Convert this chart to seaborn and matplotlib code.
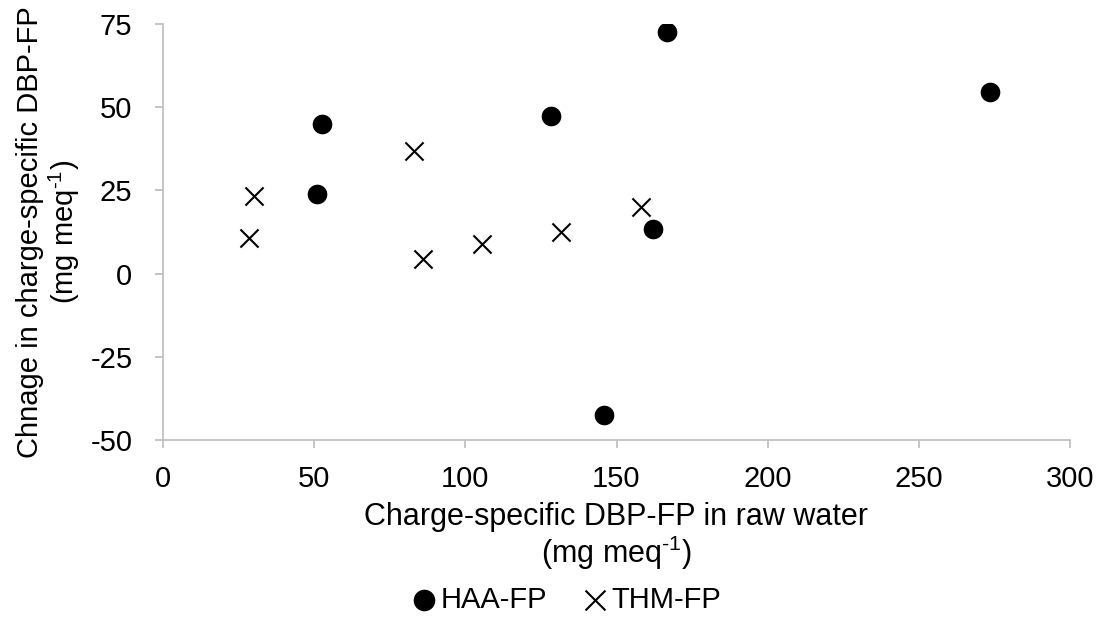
import matplotlib
matplotlib.use("Agg")
import matplotlib.pyplot as plt
import seaborn as sns
import pandas as pd

haa_x = [52.7, 50.8, 128.5, 166.6, 273.5, 162.2, 145.9]
haa_y = [44.9, 24.0, 47.4, 72.6, 54.5, 13.5, -42.6]
thm_x = [30.0, 28.5, 83.0, 86.0, 105.5, 131.6, 158.0]
thm_y = [23.3, 10.7, 36.7, 4.4, 8.9, 12.6, 19.9]

x_ticks = [0, 50, 100, 150, 200, 250, 300]
y_ticks = [-50, -25, 0, 25, 50, 75]
x_label = "Charge-specific DBP-FP in raw water\n(mg meq$^{\\text{-1}}$)"
y_label = "Chnage in charge-specific DBP-FP\n(mg meq$^{\\text{-1}}$)"

sns.set_theme(style="white")
plt.rcParams['font.family'] = ['Liberation Sans', 'DejaVu Sans']
plt.rcParams['mathtext.fontset'] = 'custom'
plt.rcParams['mathtext.rm'] = 'Liberation Sans'
plt.rcParams['text.color'] = 'black'
plt.rcParams['axes.labelcolor'] = 'black'

FS = 21

haa = pd.DataFrame({"x": haa_x, "y": haa_y})
thm = pd.DataFrame({"x": thm_x, "y": thm_y})

fig = plt.figure(figsize=(11.03, 6.18), dpi=100)
ax = fig.add_axes([163/1103, 1-440/618, (1070-163)/1103, (440-24)/618])

sns.scatterplot(data=haa, x="x", y="y", ax=ax, marker="o", s=200,
                color="black", edgecolor="black", linewidth=0, label="HAA-FP")
sns.scatterplot(data=thm, x="x", y="y", ax=ax, marker="x", s=170,
                color="black", linewidth=1.5, label="THM-FP")

ax.set_xlim(0, 300)
ax.set_ylim(-50, 75)
ax.set_xticks(x_ticks)
ax.set_yticks(y_ticks)
ax.set_xticklabels([str(v) for v in x_ticks])
ax.set_yticklabels([str(v) for v in y_ticks])

for s in ["top", "right"]:
    ax.spines[s].set_visible(False)
for s in ["left", "bottom"]:
    ax.spines[s].set_color("#c0c0c0")
    ax.spines[s].set_linewidth(1.3)

ax.tick_params(axis="both", which="major", direction="out", length=6, width=1.3,
               color="#c0c0c0", labelsize=FS, labelcolor="black", bottom=True, left=True)
ax.tick_params(axis="x", pad=12)
ax.tick_params(axis="y", pad=16)

ax.set_xlabel(x_label, fontsize=22, linespacing=1.05)
ax.xaxis.set_label_coords(0.5, -0.15)
ax.set_ylabel(y_label, fontsize=FS, labelpad=6, linespacing=1.1)
ax.grid(False)

if ax.legend_:
    ax.legend_.remove()
handles, labels = ax.get_legend_handles_labels()
fig.legend(handles, labels, loc="center", bbox_to_anchor=(566/1103, 1-600/618),
           ncol=2, frameon=False, fontsize=FS, handletextpad=0.1,
           columnspacing=1.2, handlelength=0.9, borderaxespad=0, markerscale=1.1)

fig.savefig("out.png", dpi=100, facecolor="white")
